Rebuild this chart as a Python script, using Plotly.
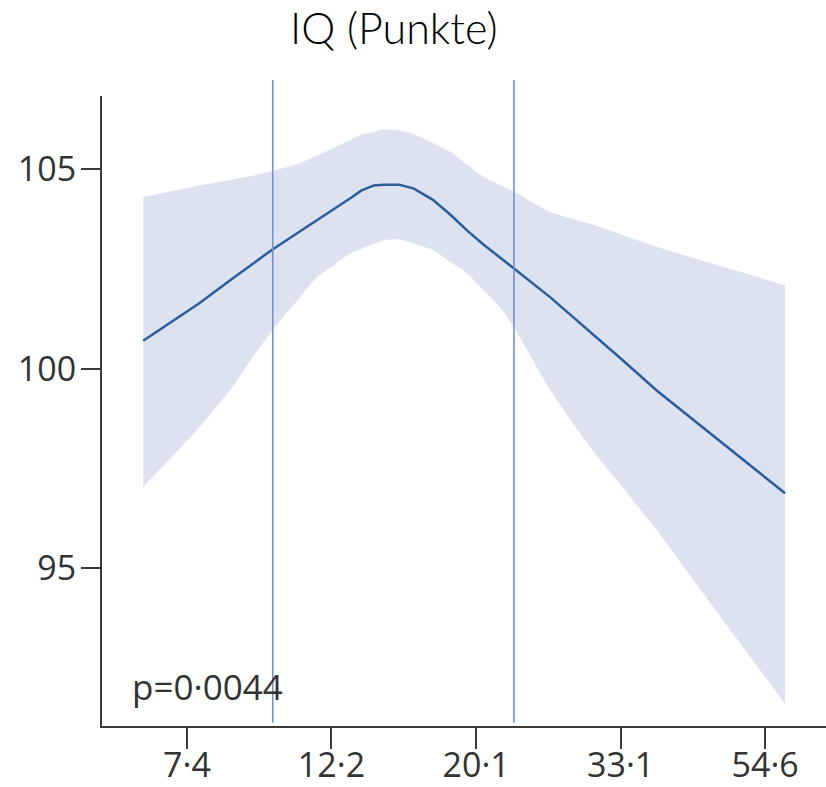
import math
import plotly.graph_objects as go

# ---- data ----
x_vals = [6.35, 7.7, 8.6, 9.2, 9.92, 10.9, 11.6, 12.2, 13.0, 13.5, 14.1, 14.6, 15.4,
          16.2, 17.3, 18.4, 19.5, 20.6, 21.8, 22.9, 26.0, 29.8, 33.1, 37.6, 42.5, 47.2, 58.5]
iq_mean = [100.70, 101.63, 102.23, 102.59, 102.98, 103.43, 103.72, 103.96, 104.27, 104.46,
           104.59, 104.61, 104.61, 104.51, 104.23, 103.85, 103.45, 103.11, 102.78, 102.51,
           101.78, 100.93, 100.26, 99.44, 98.73, 98.12, 96.88]
iq_upper = [104.30, 104.58, 104.73, 104.82, 104.95, 105.14, 105.35, 105.51, 105.73, 105.86,
            105.93, 105.99, 105.97, 105.87, 105.65, 105.42, 105.10, 104.80, 104.60, 104.43,
            103.92, 103.63, 103.37, 103.05, 102.78, 102.55, 102.09]
iq_lower = [97.04, 98.52, 99.49, 100.20, 100.95, 101.77, 102.30, 102.56, 102.89, 103.00,
            103.13, 103.22, 103.24, 103.13, 102.97, 102.67, 102.38, 101.97, 101.55, 101.04,
            99.45, 98.04, 97.09, 95.94, 94.73, 93.70, 91.61]

x_tick_vals = [7.389, 12.18, 20.09, 33.12, 54.6]
x_tick_text = ["7·4", "12·2", "20·1", "33·1", "54·6"]
y_tick_vals = [95, 100, 105]
y_tick_text = ["95", "100", "105"]
ref_lines = [9.94, 22.9]
title_text = "IQ (Punkte)"
p_text = "p=0·0044"

# ---- styles ----
BAND = "rgb(221,226,240)"
LINE = "rgb(45,92,158)"
VLINE = "rgb(112,144,212)"
AXIS = "#3a3a3a"
TICKFONT = dict(family="Open Sans", size=34, color="#333333")

fig = go.Figure()
fig.add_trace(go.Scatter(x=x_vals, y=iq_lower, mode="lines",
                         line=dict(width=0, shape="spline", smoothing=0.6),
                         hoverinfo="skip", showlegend=False))
fig.add_trace(go.Scatter(x=x_vals, y=iq_upper, mode="lines",
                         line=dict(width=0, shape="spline", smoothing=0.6),
                         fill="tonexty", fillcolor=BAND, hoverinfo="skip", showlegend=False))
fig.add_trace(go.Scatter(x=x_vals, y=iq_mean, mode="lines",
                         line=dict(color=LINE, width=2.5), showlegend=False))

W, H = 826, 787
L, R, T, B = 102, 0, 96, 61
plot_h = H - T - B
plot_w = W - L - R

for xv in ref_lines:
    fig.add_shape(type="line", xref="x", yref="paper", x0=xv, x1=xv,
                  y0=3.3 / plot_h, y1=1 + 16 / plot_h,
                  line=dict(color=VLINE, width=1.6), layer="above")

fig.add_annotation(text=title_text, xref="paper", yref="paper",
                   x=(393.7 - L) / plot_w, y=1 + (96 - 28) / plot_h,
                   xanchor="center", yanchor="middle", showarrow=False,
                   font=dict(family="Lato", size=43, color="#000000", weight=300))
fig.add_annotation(text=p_text, xref="paper", yref="paper",
                   x=(130 - L) / plot_w, y=(726 - 686) / plot_h,
                   xanchor="left", yanchor="middle", showarrow=False,
                   font=dict(family="Open Sans", size=35, color="#333333"))

fig.update_layout(
    template="none",
    width=W, height=H,
    margin=dict(l=L, r=R, t=T, b=B, pad=0, autoexpand=False),
    paper_bgcolor="white", plot_bgcolor="white",
    xaxis=dict(type="log", range=[math.log10(5.506), math.log10(67.4)],
               tickvals=x_tick_vals, ticktext=x_tick_text, automargin=False,
               showgrid=False, zeroline=False,
               showline=True, linecolor=AXIS, linewidth=2,
               ticks="outside", ticklen=21, tickwidth=2, tickcolor=AXIS,
               tickfont=TICKFONT, ticklabelstandoff=-13),
    yaxis=dict(range=[91.05, 106.83], tickvals=y_tick_vals, ticktext=y_tick_text,
               automargin=False,
               showgrid=False, zeroline=False,
               showline=True, linecolor=AXIS, linewidth=2,
               ticks="outside", ticklen=19, tickwidth=2, tickcolor=AXIS,
               tickfont=TICKFONT, ticklabelstandoff=-2),
)

fig.write_html("out.html", config={"displayModeBar": False},
               post_script="document.body.style.margin='0';document.body.style.padding='0';")
